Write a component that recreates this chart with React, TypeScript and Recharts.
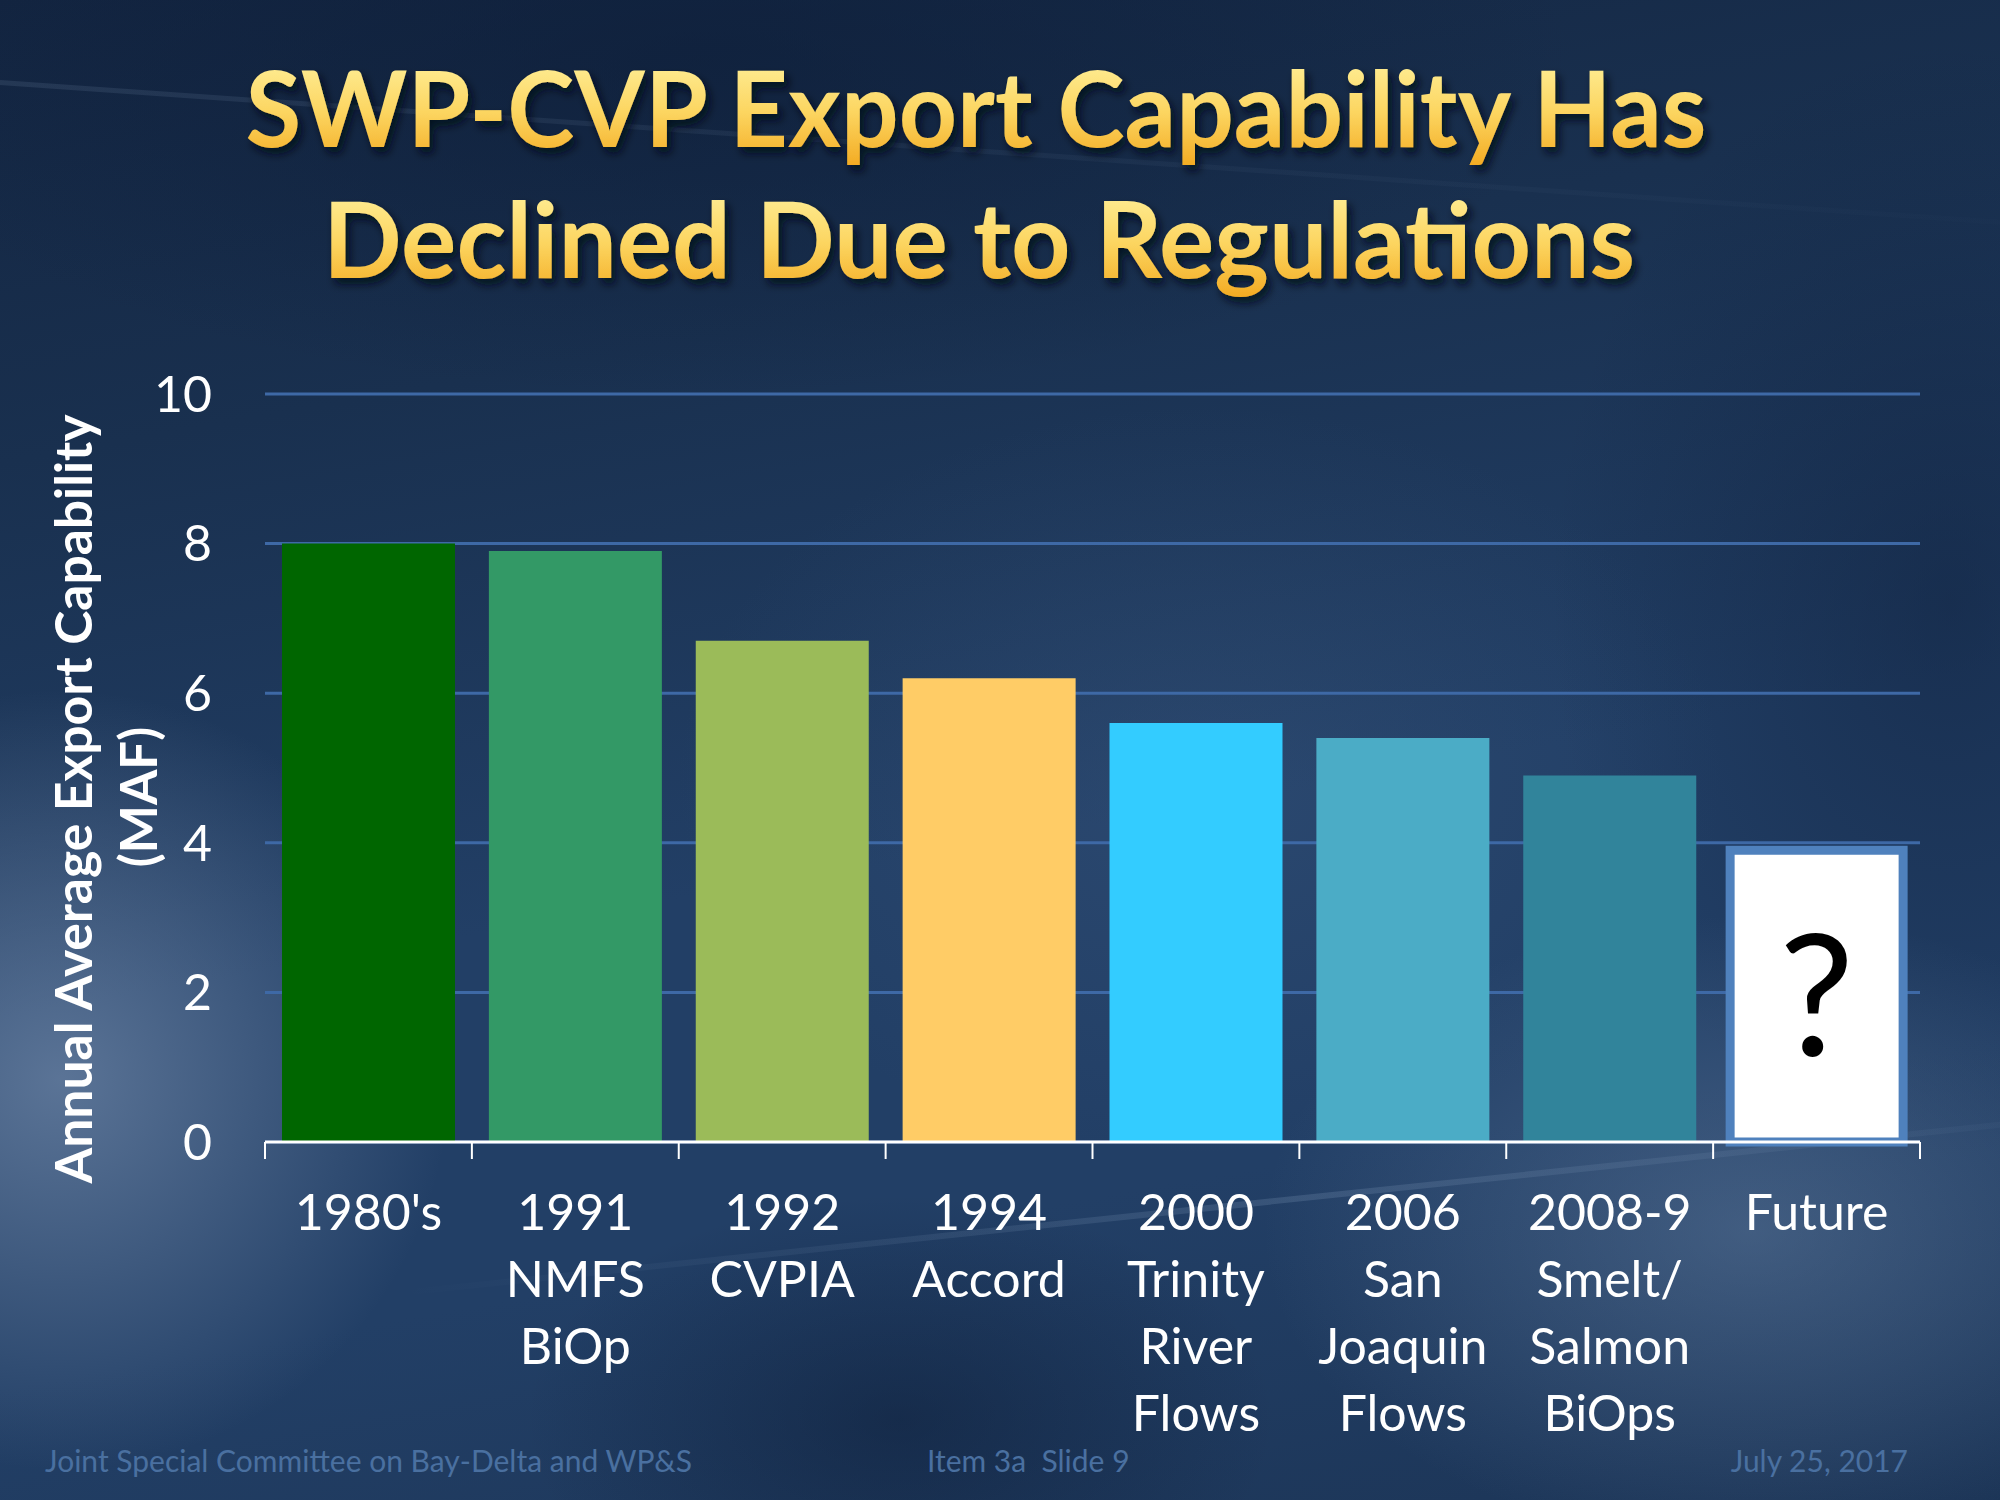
import React from "react";
import { BarChart, Bar, XAxis, YAxis, CartesianGrid, Cell, LabelList } from "recharts";

const categories = [
  "1980's",
  "1991 NMFS BiOp",
  "1992 CVPIA",
  "1994 Accord",
  "2000 Trinity River Flows",
  "2006 San Joaquin Flows",
  "2008-9 Smelt/ Salmon BiOps",
  "Future",
];
const tickLabelLines = [
  ["1980's"],
  ["1991", "NMFS", "BiOp"],
  ["1992", "CVPIA"],
  ["1994", "Accord"],
  ["2000", "Trinity", "River", "Flows"],
  ["2006", "San", "Joaquin", "Flows"],
  ["2008-9", "Smelt/", "Salmon", "BiOps"],
  ["Future"],
];
const exportValues = [8.0, 7.9, 6.7, 6.2, 5.6, 5.4, 4.9, 3.9];
const barMarks = ["", "", "", "", "", "", "", "?"];
const yTicks = [0, 2, 4, 6, 8, 10];

const barFills = ["#006600", "#339966", "#9BBB59", "#FFCC66", "#33CCFF", "#4BACC6", "#31849B", "#FFFFFF"];
const barStrokes = ["none", "none", "none", "none", "none", "none", "none", "#4F81BD"];

const data = categories.map((c, i) => ({ category: c, value: exportValues[i], mark: barMarks[i] }));

const FONT = "Lato, 'Open Sans', sans-serif";

const CategoryTick = (props: any) => {
  const { x, y, payload } = props;
  const idx = categories.indexOf(payload.value);
  const lines = tickLabelLines[idx] || [payload.value];
  const half = typeof payload.offset === "number" ? payload.offset : 0;
  const isLast = idx === categories.length - 1;
  return (
    <g>
      {half > 0 && <line x1={x - half} x2={x - half} y1={y} y2={y + 17} stroke="#FFFFFF" strokeWidth={2} />}
      {half > 0 && isLast && <line x1={x + half} x2={x + half} y1={y} y2={y + 17} stroke="#FFFFFF" strokeWidth={2} />}
      {lines.map((ln, i) => (
        <text
          key={i}
          x={x}
          y={y + 88 + i * 67}
          textAnchor="middle"
          fill="#FFFFFF"
          fontSize={50}
          fontFamily={FONT}
        >
          {ln}
        </text>
      ))}
    </g>
  );
};

export default function App() {
  const bg = [
    "radial-gradient(ellipse 520px 520px at 60px 1080px, rgba(125,148,180,0.62), rgba(125,148,180,0) 75%)",
    "radial-gradient(ellipse 650px 420px at 1750px 1230px, rgba(115,142,176,0.40), rgba(115,142,176,0) 75%)",
    "radial-gradient(ellipse 500px 300px at 900px 1420px, rgba(10,25,50,0.45), rgba(10,25,50,0) 75%)",
    "radial-gradient(ellipse 1100px 420px at 700px 60px, rgba(12,28,55,0.55), rgba(12,28,55,0) 80%)",
    "radial-gradient(ellipse 500px 700px at 1950px 600px, rgba(12,28,55,0.45), rgba(12,28,55,0) 80%)",
    "radial-gradient(ellipse 700px 500px at 1200px 780px, rgba(70,100,140,0.25), rgba(70,100,140,0) 75%)",
    "linear-gradient(170deg, #132541 0%, #19304f 25%, #223f66 55%, #223f66 75%, #1c3557 100%)",
  ].join(",");
  return (
    <div
      style={{
        position: "absolute",
        left: 0,
        top: 0,
        width: 2000,
        height: 1500,
        overflow: "hidden",
        background: bg,
        fontFamily: FONT,
      }}
    >
      <div
        style={{
          position: "absolute",
          left: 400,
          top: 1290,
          width: 1800,
          height: 6,
          background: "linear-gradient(90deg, rgba(160,185,215,0) 0%, rgba(160,185,215,0.18) 50%, rgba(160,185,215,0) 100%)",
          transform: "rotate(-6deg)",
          transformOrigin: "0 0",
        }}
      />
      <div
        style={{
          position: "absolute",
          left: 0,
          top: 80,
          width: 2200,
          height: 5,
          background: "linear-gradient(90deg, rgba(160,185,215,0.12) 0%, rgba(160,185,215,0.04) 60%, rgba(160,185,215,0) 100%)",
          transform: "rotate(4deg)",
          transformOrigin: "0 0",
        }}
      />
      <svg width={2000} height={1500} style={{ position: "absolute", left: 0, top: 0 }}>
        <defs>
          <linearGradient id="titleGrad" x1="0" y1="0" x2="0" y2="1">
            <stop offset="0%" stopColor="#FFF6A8" />
            <stop offset="55%" stopColor="#FCD560" />
            <stop offset="100%" stopColor="#F2A81E" />
          </linearGradient>
          <filter id="titleShadow" x="-5%" y="-20%" width="110%" height="150%">
            <feDropShadow dx="4" dy="6" stdDeviation="4" floodColor="#000814" floodOpacity="0.85" />
          </filter>
        </defs>
        <g filter="url(#titleShadow)" fontFamily={FONT} fontWeight={700} fill="url(#titleGrad)">
          <text x={976} y={147} textAnchor="middle" fontSize={106} textLength={1461} lengthAdjust="spacingAndGlyphs">
            SWP-CVP Export Capability Has
          </text>
          <text x={979} y={278} textAnchor="middle" fontSize={106} textLength={1312} lengthAdjust="spacingAndGlyphs">
            Declined Due to Regulations
          </text>
        </g>
        <g fontFamily={FONT} fontWeight={700} fill="#FFFFFF" fontSize={51}>
          <text
            x={92}
            y={799}
            textAnchor="middle"
            transform="rotate(-90 92 799)"
            textLength={769}
            lengthAdjust="spacingAndGlyphs"
          >
            Annual Average Export Capability
          </text>
          <text x={157} y={797} textAnchor="middle" transform="rotate(-90 157 797)">
            (MAF)
          </text>
        </g>
        <g fontFamily={FONT} fill="#4A70A0" fontSize={30}>
          <text x={45} y={1472}>Joint Special Committee on Bay-Delta and WP&amp;S</text>
          <text x={927} y={1472}>{"Item 3a\u00a0 Slide 9"}</text>
          <text x={1908} y={1472} textAnchor="end">July 25, 2017</text>
        </g>
      </svg>
      <div style={{ position: "absolute", left: 0, top: 0 }}>
        <BarChart
          width={2000}
          height={1500}
          data={data}
          margin={{ top: 394, right: 80, bottom: 0, left: 0 }}
          barSize={173}
        >
          <CartesianGrid vertical={false} horizontal={true} stroke="#3E69A6" strokeWidth={3} />
          <XAxis
            dataKey="category"
            type="category"
            height={358}
            axisLine={{ stroke: "#FFFFFF", strokeWidth: 3 }}
            tickLine={false}
            tickSize={0}
            tickMargin={0}
            interval={0}
            tick={<CategoryTick />}
          />
          <YAxis
            domain={[0, 10]}
            ticks={yTicks}
            width={265}
            axisLine={false}
            tickLine={false}
            tickSize={0}
            tickMargin={53}
            tick={{ fill: "#FFFFFF", fontSize: 50, fontFamily: FONT }}
          />
          <Bar dataKey="value" isAnimationActive={false}>
            {data.map((d, i) => (
              <Cell key={i} fill={barFills[i]} stroke={barStrokes[i]} strokeWidth={barStrokes[i] === "none" ? 0 : 9} />
            ))}
            <LabelList dataKey="mark" position="center" fill="#000000" fontSize={168} fontFamily={FONT} />
          </Bar>
        </BarChart>
      </div>
    </div>
  );
}
